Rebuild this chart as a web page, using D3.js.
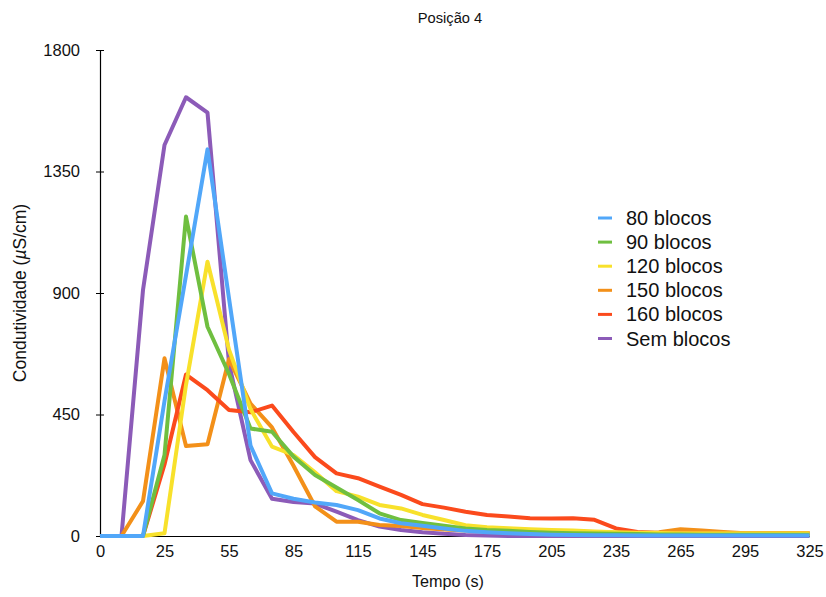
<!DOCTYPE html>
<html>
<head>
<meta charset="utf-8">
<script src="https://cdn.jsdelivr.net/npm/d3@7"></script>
<style>
  html, body { margin: 0; padding: 0; background: #fff; }
  svg { display: block; font-family: "Liberation Sans", Arial, Helvetica, sans-serif; }
</style>
</head>
<body>
<svg id="chart" width="826" height="597"></svg>
<script>
// Sampling times (s)
const tempos = [0, 5, 15, 25, 35, 45, 55, 65, 75, 85, 95, 105, 115, 125, 135, 145, 155,
  165, 175, 185, 195, 205, 215, 225, 235, 245, 255, 265, 275, 285, 295, 305, 315, 325];

// Conductivity readings (µS/cm) for each configuration
const blocos80 = [0, 0, 0, 500, 965, 1432, 880, 335, 158, 138, 124, 115, 96, 65, 47, 38, 28,
  19, 14, 10, 7, 5, 4, 3, 3, 2, 2, 2, 2, 2, 2, 2, 2, 2];
const blocos90 = [0, 0, 0, 300, 1183, 775, 600, 398, 386, 294, 226, 180, 133, 84, 59, 48, 38,
  28, 22, 19, 15, 12, 10, 9, 8, 7, 6, 6, 5, 5, 5, 5, 5, 5];
const blocos120 = [0, 0, 0, 10, 560, 1016, 690, 470, 331, 300, 236, 166, 146, 115, 102, 78, 59,
  40, 32, 29, 25, 22, 20, 17, 14, 12, 11, 10, 10, 10, 10, 10, 10, 10];
const blocos150 = [0, 0, 129, 658, 333, 340, 655, 490, 402, 260, 110, 53, 53, 41, 37, 30, 24,
  20, 19, 18, 17, 16, 16, 15, 12, 12, 14, 25, 20, 15, 10, 10, 10, 10];
const blocos160 = [0, 0, 0, 265, 598, 540, 467, 458, 483, 385, 292, 232, 214, 183, 152, 118, 105,
  90, 78, 72, 66, 65, 66, 60, 28, 15, 10, 10, 10, 10, 10, 10, 10, 10];
const semBlocos = [0, 0, 911, 1448, 1625, 1568, 640, 281, 138, 126, 120, 90, 59, 35, 22, 14, 8,
  4, 2, 0, 0, 0, 0, 0, 0, 0, 0, 0, 0, 0, 0, 0, 0, 0];

const nomes = ["80 blocos", "90 blocos", "120 blocos", "150 blocos", "160 blocos", "Sem blocos"];
const cores = ["#51a7f9", "#6fbf40", "#f8e12b", "#f39019", "#fb4a1c", "#8c5bb8"];
const valoresY = [0, 450, 900, 1350, 1800];
const rotulosX = [0, 25, 55, 85, 115, 145, 175, 205, 235, 265, 295, 325];

const series = [blocos80, blocos90, blocos120, blocos150, blocos160, semBlocos]
  .map((v, i) => ({ nome: nomes[i], cor: cores[i], valores: v }));

const svg = d3.select("#chart");
const margem = { esq: 100, dir: 809.5, topo: 50, base: 536 };

const x = d3.scalePoint().domain(tempos).range([margem.esq, margem.dir]).padding(0);
const y = d3.scaleLinear().domain([0, 1800]).range([margem.base, margem.topo]);

// Title
svg.append("text")
  .attr("x", 450).attr("y", 23)
  .attr("text-anchor", "middle")
  .attr("font-size", 14.7)
  .attr("fill", "#111")
  .text("Posição 4");

// Y axis
const yAxis = svg.append("g")
  .attr("transform", `translate(${margem.esq},0)`)
  .call(d3.axisLeft(y).tickValues(valoresY).tickFormat(d3.format("d")).tickSize(4).tickPadding(16));
yAxis.select(".domain").attr("stroke", "#000").attr("stroke-width", 1.2);
yAxis.selectAll(".tick line").attr("stroke", "#000").attr("x2", -4).attr("x1", 4);
yAxis.selectAll(".tick text")
  .attr("font-size", 16.5).attr("fill", "#111")
  .attr("font-family", "'Liberation Sans', Arial, sans-serif");

// X axis
const xAxis = svg.append("g")
  .attr("transform", `translate(0,${margem.base})`)
  .call(d3.axisBottom(x).tickValues(rotulosX).tickSize(0).tickPadding(9));
xAxis.select(".domain").attr("stroke", "#000").attr("stroke-width", 1.2);
xAxis.selectAll(".tick text")
  .attr("font-size", 16.5).attr("fill", "#111")
  .attr("font-family", "'Liberation Sans', Arial, sans-serif");

// Axis titles
svg.append("text")
  .attr("x", 448).attr("y", 587)
  .attr("text-anchor", "middle")
  .attr("font-size", 16.2).attr("fill", "#111")
  .text("Tempo (s)");

const yTitulo = svg.append("text")
  .attr("transform", "translate(26,293) rotate(-90)")
  .attr("text-anchor", "middle")
  .attr("font-size", 17.5).attr("fill", "#111");
yTitulo.append("tspan").text("Condutividade (");
yTitulo.append("tspan").attr("font-style", "italic").text("µ");
yTitulo.append("tspan").text("S/cm)");

// Lines (drawn bottom to top)
const linha = d3.line()
  .x((d, i) => x(tempos[i]))
  .y(d => y(d));

const ordem = [5, 3, 4, 2, 1, 0];
svg.append("g").selectAll("path")
  .data(ordem.map(i => series[i]))
  .join("path")
  .attr("fill", "none")
  .attr("stroke", d => d.cor)
  .attr("stroke-width", 4)
  .attr("stroke-linejoin", "round")
  .attr("stroke-linecap", "butt")
  .attr("d", d => linha(d.valores));

// Legend
const legenda = svg.append("g").attr("transform", "translate(598,218)");
const item = legenda.selectAll("g")
  .data(series)
  .join("g")
  .attr("transform", (d, i) => `translate(0,${i * 24.1})`);
item.append("line")
  .attr("x1", 0).attr("x2", 14)
  .attr("stroke", d => d.cor).attr("stroke-width", 3);
item.append("text")
  .attr("x", 28).attr("dy", "0.35em")
  .attr("font-size", 20).attr("fill", "#111")
  .text(d => d.nome);
</script>
</body>
</html>
